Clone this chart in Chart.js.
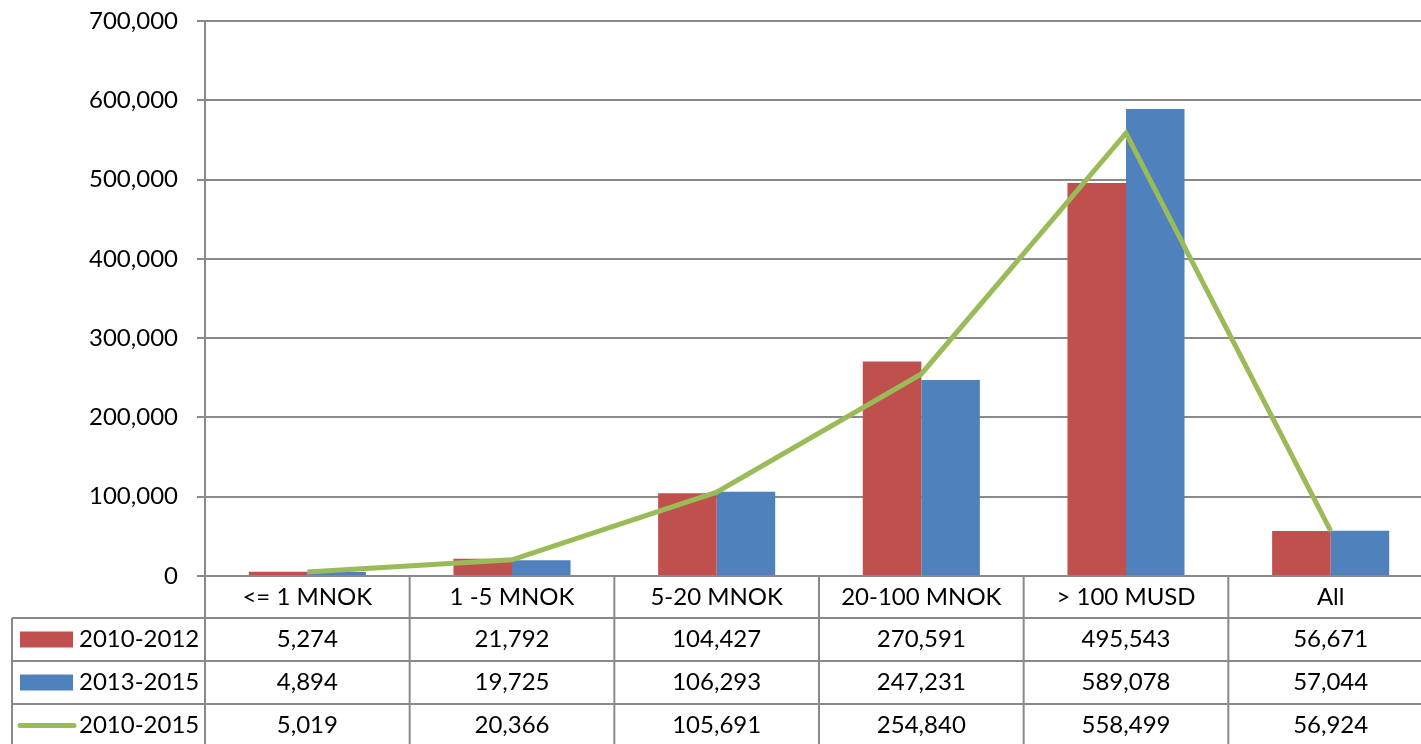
<!DOCTYPE html>
<html>
<head>
<meta charset="utf-8">
<script src="https://cdn.jsdelivr.net/npm/chart.js@4"></script>
<style>
  html, body { margin: 0; padding: 0; background: #fff; overflow: hidden; }
  #wrap { width: 1433px; height: 744px; position: relative; }
</style>
</head>
<body>
<div id="wrap"><canvas id="chart"></canvas></div>
<script>
const categories = ["<= 1 MNOK", "1 -5 MNOK", "5-20 MNOK", "20-100 MNOK", "> 100 MUSD", "All"];
const seriesNames = ["2010-2012", "2013-2015", "2010-2015"];
const values2010_2012 = [5274, 21792, 104427, 270591, 495543, 56671];
const values2013_2015 = [4894, 19725, 106293, 247231, 589078, 57044];
const values2010_2015 = [5019, 20366, 105691, 254840, 558499, 56924];
const yMin = 0, yMax = 700000, yStep = 100000;

const RED = "#C0504D", BLUE = "#4F81BD", GREEN = "#9BBB59";
const GRID = "#898989";
const FONT = "Lato";
const fmt = v => v.toLocaleString("en-US");

// draws the data table under the plot, aligned with the category scale
const dataTable = {
  id: "dataTable",
  afterDraw(chart) {
    const { ctx, chartArea: a, scales: { x } } = chart;
    const colW = (a.right - a.left) / categories.length;
    const rows = [a.bottom, a.bottom + 42, a.bottom + 85, a.bottom + 128, a.bottom + 171];
    const bottom = chart.height;
    const tableLeft = 12;

    ctx.save();
    ctx.strokeStyle = GRID;
    ctx.lineWidth = 2;
    ctx.beginPath();
    for (let r = 1; r <= 3; r++) {
      ctx.moveTo(tableLeft, rows[r]);
      ctx.lineTo(chart.width, rows[r]);
    }
    ctx.moveTo(tableLeft, rows[1]);
    ctx.lineTo(tableLeft, bottom);
    for (let i = 0; i <= categories.length; i++) {
      const px = a.left + i * colW;
      ctx.moveTo(px, a.bottom);
      ctx.lineTo(px, bottom);
    }
    ctx.stroke();

    ctx.fillStyle = "#000";
    ctx.font = "24px " + FONT;
    ctx.textAlign = "center";
    ctx.textBaseline = "middle";
    const series = [values2010_2012, values2013_2015, values2010_2015];
    categories.forEach((c, i) => {
      const cx = x.getPixelForValue(i);
      ctx.fillText(c, cx, (rows[0] + rows[1]) / 2);
      series.forEach((s, r) => {
        ctx.fillText(fmt(s[i]), cx, (rows[r + 1] + rows[r + 2]) / 2);
      });
    });

    // legend keys
    ctx.textAlign = "left";
    seriesNames.forEach((name, r) => {
      const cy = (rows[r + 1] + rows[r + 2]) / 2;
      if (r < 2) {
        ctx.fillStyle = r === 0 ? RED : BLUE;
        ctx.fillRect(20, cy - 8, 53, 16);
      } else {
        ctx.strokeStyle = GREEN;
        ctx.lineWidth = 5;
        ctx.lineCap = "round";
        ctx.beginPath();
        ctx.moveTo(20, cy);
        ctx.lineTo(74, cy);
        ctx.stroke();
      }
      ctx.fillStyle = "#000";
      ctx.fillText(name, 79, cy);
    });
    ctx.restore();
  }
};

new Chart(document.getElementById("chart"), {
  type: "bar",
  data: {
    labels: categories,
    datasets: [
      {
        type: "line",
        label: seriesNames[2],
        data: values2010_2015,
        borderColor: GREEN,
        borderWidth: 5,
        pointRadius: 0,
        tension: 0,
        order: 0
      },
      {
        label: seriesNames[0],
        data: values2010_2012,
        backgroundColor: RED,
        categoryPercentage: 0.572,
        barPercentage: 1,
        order: 1
      },
      {
        label: seriesNames[1],
        data: values2013_2015,
        backgroundColor: BLUE,
        categoryPercentage: 0.572,
        barPercentage: 1,
        order: 2
      }
    ]
  },
  options: {
    responsive: true,
    maintainAspectRatio: false,
    animation: false,
    layout: { padding: { top: 21, bottom: 168, left: 0, right: 0 } },
    plugins: { legend: { display: false }, tooltip: { enabled: false } },
    scales: {
      x: { display: false },
      y: {
        min: yMin,
        max: yMax,
        afterFit: s => {
          s.width = 205;
          s.paddingTop = 0;
          s.paddingBottom = 0;
        },
        ticks: {
          stepSize: yStep,
          padding: 19,
          color: "#000",
          font: { family: FONT, size: 24 },
          callback: v => fmt(v)
        },
        grid: { color: GRID, lineWidth: 2, tickLength: 8 },
        border: { color: GRID, width: 2 }
      }
    }
  },
  plugins: [dataTable]
});
</script>
</body>
</html>
